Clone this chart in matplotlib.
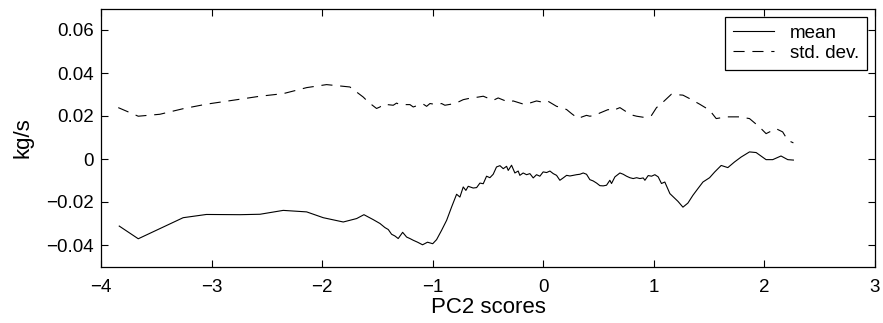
import matplotlib
matplotlib.use("Agg")
import matplotlib.pyplot as plt
import numpy as np

plt.rcParams['font.family'] = ['Liberation Sans', 'DejaVu Sans']

# mean curve (PC2 score, kg/s)
mean_x = [-3.835, -3.663, -3.257, -3.047, -2.743, -2.562, -2.352, -2.140, -1.990, -1.809,
          -1.688, -1.622, -1.538, -1.477, -1.432, -1.402, -1.372, -1.342, -1.312, -1.272,
          -1.236, -1.206, -1.176, -1.137, -1.092, -1.047, -1.0, -0.965, -0.920, -0.874,
          -0.829, -0.784, -0.754, -0.724, -0.700, -0.679, -0.634, -0.603, -0.573, -0.543,
          -0.513, -0.483, -0.453, -0.423, -0.392, -0.362, -0.332, -0.317, -0.287, -0.257,
          -0.227, -0.212, -0.182, -0.151, -0.121, -0.091, -0.061, -0.031, -0.001, 0.030,
          0.060, 0.090, 0.120, 0.150, 0.180, 0.211, 0.241, 0.271, 0.301, 0.331,
          0.361, 0.391, 0.421, 0.451, 0.482, 0.512, 0.542, 0.572, 0.602, 0.617,
          0.648, 0.693, 0.723, 0.753, 0.783, 0.813, 0.844, 0.874, 0.904, 0.919,
          0.949, 0.979, 1.009, 1.039, 1.069, 1.099, 1.145, 1.218, 1.263, 1.308,
          1.353, 1.398, 1.444, 1.504, 1.549, 1.609, 1.669, 1.729, 1.789, 1.865,
          1.925, 2.015, 2.075, 2.150, 2.211, 2.262]
mean_y = [-0.0312, -0.0371, -0.0273, -0.0258, -0.0259, -0.0257, -0.0239, -0.0246, -0.0273, -0.0293,
          -0.0277, -0.0259, -0.0282, -0.0300, -0.0319, -0.0328, -0.0350, -0.0358, -0.0370, -0.0341,
          -0.0363, -0.0370, -0.0378, -0.0387, -0.0399, -0.0387, -0.0394, -0.0375, -0.0332, -0.0285,
          -0.0223, -0.0164, -0.0177, -0.0130, -0.0146, -0.0127, -0.0135, -0.0133, -0.0112, -0.0115,
          -0.0080, -0.0087, -0.0071, -0.0037, -0.0031, -0.0045, -0.0034, -0.0053, -0.0029, -0.0065,
          -0.0056, -0.0076, -0.0065, -0.0073, -0.0068, -0.0088, -0.0073, -0.0080, -0.0060, -0.0063,
          -0.0056, -0.0068, -0.0076, -0.0099, -0.0088, -0.0076, -0.0079, -0.0076, -0.0073, -0.0071,
          -0.0065, -0.0071, -0.0096, -0.0102, -0.0112, -0.0124, -0.0125, -0.0122, -0.0099, -0.0114,
          -0.0083, -0.0065, -0.0071, -0.0080, -0.0087, -0.0091, -0.0087, -0.0091, -0.0088, -0.0099,
          -0.0077, -0.0080, -0.0073, -0.0083, -0.0114, -0.0107, -0.0161, -0.0197, -0.0224, -0.0205,
          -0.0169, -0.0138, -0.0107, -0.0087, -0.0061, -0.0030, -0.0040, -0.0014, 0.0009, 0.0033,
          0.0030, -0.0003, -0.0003, 0.0014, -0.0003, -0.0005]

# standard deviation curve
std_x = [-3.844, -3.663, -3.468, -3.257, -3.047, -2.743, -2.562, -2.352, -2.140, -1.960,
         -1.749, -1.628, -1.583, -1.508, -1.477, -1.447, -1.357, -1.327, -1.296, -1.206,
         -1.176, -1.131, -1.085, -1.055, -1.025, -0.965, -0.920, -0.890, -0.799, -0.769,
         -0.724, -0.679, -0.589, -0.543, -0.453, -0.408, -0.317, -0.272, -0.197, -0.167,
         -0.061, 0.015, 0.045, 0.120, 0.165, 0.211, 0.256, 0.316, 0.346, 0.391,
         0.421, 0.467, 0.512, 0.587, 0.617, 0.693, 0.753, 0.813, 0.844, 0.919,
         0.979, 1.024, 1.069, 1.158, 1.263, 1.323, 1.414, 1.504, 1.564, 1.654,
         1.774, 1.865, 1.955, 2.015, 2.105, 2.165, 2.211, 2.262]
std_y = [0.0239, 0.0199, 0.0208, 0.0234, 0.0255, 0.0278, 0.0292, 0.0304, 0.0332, 0.0346,
         0.0335, 0.0288, 0.0265, 0.0235, 0.0242, 0.0255, 0.0250, 0.0260, 0.0253, 0.0253,
         0.0242, 0.0250, 0.0255, 0.0245, 0.0258, 0.0253, 0.0258, 0.0250, 0.0258, 0.0265,
         0.0276, 0.0281, 0.0288, 0.0292, 0.0273, 0.0284, 0.0265, 0.0270, 0.0258, 0.0253,
         0.0270, 0.0262, 0.0268, 0.0245, 0.0239, 0.0230, 0.0211, 0.0188, 0.0195, 0.0203,
         0.0199, 0.0203, 0.0214, 0.0230, 0.0223, 0.0239, 0.0219, 0.0203, 0.0199, 0.0193,
         0.0203, 0.0239, 0.0258, 0.0301, 0.0297, 0.0281, 0.0255, 0.0227, 0.0188, 0.0196,
         0.0196, 0.0188, 0.0149, 0.0118, 0.0141, 0.0126, 0.0087, 0.0075]

fig = plt.figure(figsize=(8.83, 3.23), dpi=100)
ax = fig.add_axes([101 / 883, 1 - 266.5 / 323, 774 / 883, 258 / 323])

ax.plot(mean_x, mean_y, 'k-', lw=0.8, label='mean')
ax.plot(std_x, std_y, 'k--', lw=0.8, dashes=(10, 7), label='std. dev.')

ax.set_xlim(-4, 3)
ax.set_ylim(-0.05, 0.07)
ax.set_xticks(np.arange(-4, 4, 1))
ax.set_yticks([-0.04, -0.02, 0, 0.02, 0.04, 0.06])
ax.set_xticklabels(['\u22124', '\u22123', '\u22122', '\u22121', '0', '1', '2', '3'])
ax.set_yticklabels(['\u22120.04', '\u22120.02', '0', '0.02', '0.04', '0.06'])
ax.tick_params(direction='in', top=True, right=True, length=5, width=0.8, labelsize=13.5)
ax.tick_params(axis='x', pad=9)
ax.tick_params(axis='y', pad=5)
for s in ax.spines.values():
    s.set_linewidth(0.9)

ax.set_xlabel('PC2 scores', fontsize=16, labelpad=1)
ax.set_ylabel('kg/s', fontsize=16, labelpad=9)

leg = ax.legend(loc='upper right', fontsize=13.5, fancybox=False, framealpha=1,
                edgecolor='black', handlelength=2.2, handletextpad=0.85,
                borderpad=0.42, labelspacing=0.15, borderaxespad=0,
                bbox_to_anchor=(0.9897, 0.967))
leg.get_frame().set_linewidth(0.9)

fig.savefig('out.png', dpi=100)
